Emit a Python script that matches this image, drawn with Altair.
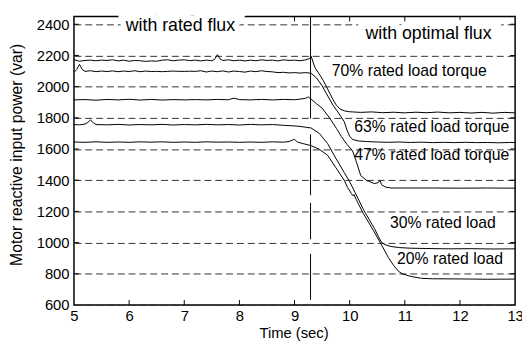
import altair as alt
import pandas as pd

FONT = "Liberation Sans"

x_ticks = [5, 6, 7, 8, 9, 10, 11, 12, 13]
y_ticks = [600, 800, 1000, 1200, 1400, 1600, 1800, 2000, 2200, 2400]
x_inner_ticks = [6, 7, 8, 9, 10, 11, 12]
y_inner_ticks = [800, 1000, 1200, 1400, 1600, 1800, 2000, 2200, 2400]

series_names = ["70%", "63%", "47%", "30%", "20%"]

line_70 = [(5.0, 2172), (5.1, 2163), (5.2, 2168), (5.3, 2170), (5.4, 2166), (5.5, 2170), (5.6, 2168),
           (5.7, 2172), (5.8, 2165), (5.9, 2170), (6.0, 2163), (6.1, 2168), (6.2, 2166), (6.3, 2162),
           (6.4, 2165), (6.5, 2163), (6.6, 2170), (6.7, 2172), (6.8, 2166), (6.9, 2170), (7.0, 2172),
           (7.1, 2167), (7.2, 2170), (7.3, 2165), (7.4, 2170), (7.5, 2166), (7.55, 2175), (7.6, 2205),
           (7.65, 2178), (7.7, 2168), (7.8, 2172), (7.9, 2166), (8.0, 2170), (8.1, 2165), (8.2, 2170),
           (8.3, 2166), (8.4, 2172), (8.5, 2168), (8.6, 2170), (8.7, 2165), (8.8, 2172), (8.9, 2168),
           (9.0, 2170), (9.1, 2166), (9.2, 2172), (9.27, 2180), (9.3, 2195), (9.37, 2122), (9.45, 2080),
           (9.52, 2040), (9.6, 1985), (9.7, 1915), (9.76, 1880), (9.82, 1858), (9.9, 1845), (10.0, 1839),
           (10.2, 1835), (10.4, 1838), (10.6, 1833), (10.8, 1836), (11.0, 1832), (11.2, 1836), (11.4, 1833),
           (11.6, 1837), (11.8, 1832), (12.0, 1835), (12.2, 1831), (12.4, 1835), (12.6, 1830), (12.8, 1835),
           (13.0, 1832)]

line_63 = [(5.0, 2092), (5.05, 2110), (5.1, 2143), (5.15, 2110), (5.2, 2098), (5.3, 2102), (5.4, 2096),
           (5.5, 2100), (5.6, 2097), (5.7, 2101), (5.8, 2096), (5.9, 2100), (6.0, 2097), (6.1, 2102),
           (6.2, 2096), (6.3, 2100), (6.4, 2097), (6.5, 2098), (6.6, 2096), (6.7, 2098), (6.8, 2100),
           (6.9, 2098), (7.0, 2098), (7.1, 2099), (7.2, 2098), (7.3, 2102), (7.4, 2094), (7.5, 2100),
           (7.6, 2096), (7.7, 2101), (7.8, 2094), (7.9, 2100), (8.0, 2097), (8.1, 2093), (8.2, 2100),
           (8.3, 2096), (8.4, 2102), (8.5, 2097), (8.6, 2095), (8.7, 2090), (8.8, 2092), (8.9, 2088),
           (9.0, 2090), (9.1, 2087), (9.2, 2090), (9.3, 2086), (9.4, 2055), (9.5, 2005), (9.58, 1954),
           (9.7, 1880), (9.8, 1830), (9.9, 1776), (9.95, 1722), (10.0, 1682), (10.05, 1662), (10.15, 1652),
           (10.3, 1648), (10.5, 1645), (10.7, 1643), (10.9, 1645), (11.1, 1642), (11.3, 1644), (11.5, 1641),
           (11.7, 1643), (11.9, 1641), (12.1, 1643), (12.3, 1641), (12.5, 1642), (12.7, 1640), (12.9, 1642),
           (13.0, 1641)]

line_47 = [(5.0, 1915), (5.2, 1917), (5.4, 1913), (5.6, 1918), (5.8, 1915), (6.0, 1919), (6.2, 1914),
           (6.4, 1918), (6.6, 1914), (6.8, 1917), (7.0, 1915), (7.2, 1917), (7.4, 1915), (7.6, 1918),
           (7.8, 1916), (7.9, 1926), (8.0, 1917), (8.2, 1915), (8.4, 1918), (8.6, 1915), (8.8, 1918),
           (9.0, 1916), (9.1, 1920), (9.2, 1925), (9.25, 1934), (9.3, 1920), (9.4, 1890), (9.5, 1862),
           (9.64, 1797), (9.76, 1732), (9.85, 1680), (9.95, 1630), (10.05, 1590), (10.12, 1520),
           (10.2, 1430), (10.3, 1400), (10.45, 1378), (10.52, 1385), (10.55, 1398), (10.58, 1370),
           (10.65, 1356), (10.75, 1350), (11.0, 1350), (11.5, 1350), (12.0, 1349), (12.5, 1350), (13.0, 1349)]

line_30 = [(5.0, 1757), (5.1, 1755), (5.2, 1760), (5.25, 1770), (5.3, 1787), (5.35, 1768), (5.4, 1757),
           (5.6, 1755), (5.8, 1758), (6.0, 1754), (6.2, 1757), (6.4, 1755), (6.6, 1758), (6.8, 1754),
           (7.0, 1757), (7.2, 1755), (7.4, 1758), (7.6, 1755), (7.8, 1757), (8.0, 1754), (8.2, 1758),
           (8.4, 1755), (8.6, 1757), (8.8, 1752), (9.0, 1748), (9.1, 1745), (9.2, 1740), (9.3, 1735),
           (9.45, 1700), (9.6, 1635), (9.75, 1540), (9.9, 1450), (10.0, 1390), (10.1, 1320), (10.25, 1212),
           (10.35, 1150), (10.45, 1090), (10.52, 1040), (10.57, 1005), (10.63, 988), (10.75, 975),
           (10.9, 968), (11.1, 964), (11.4, 962), (11.8, 960), (12.2, 961), (12.6, 959), (13.0, 960)]

line_20 = [(5.0, 1645), (5.2, 1643), (5.4, 1646), (5.6, 1643), (5.8, 1645), (6.0, 1643), (6.2, 1646),
           (6.4, 1644), (6.6, 1646), (6.8, 1643), (7.0, 1645), (7.2, 1643), (7.4, 1646), (7.6, 1644),
           (7.8, 1645), (8.0, 1643), (8.2, 1645), (8.4, 1643), (8.6, 1646), (8.8, 1644), (8.9, 1648),
           (8.95, 1656), (9.0, 1662), (9.05, 1645), (9.15, 1635), (9.3, 1622), (9.45, 1598), (9.6, 1560),
           (9.75, 1480), (9.9, 1400), (9.96, 1355), (10.03, 1315), (10.06, 1300), (10.08, 1308),
           (10.12, 1275), (10.25, 1185), (10.43, 1078), (10.57, 990), (10.7, 905), (10.8, 852),
           (10.88, 818), (10.95, 800), (11.1, 784), (11.3, 771), (11.5, 768), (12.0, 767), (12.5, 765),
           (13.0, 766)]

# vertical marker at the flux switch (drawn as pieces, with gaps as in the figure)
switch_x = [9.29, 9.29, 9.29, 9.29]
switch_top = [2450, 1694, 1254, 927]
switch_bottom = [1795, 1304, 1021, 633]

label_texts = ["with rated flux", "with optimal flux", "70% rated load torque",
               "63% rated load torque", "47% rated load torque", "30% rated load", "20% rated load"]
label_x = [6.93, 11.43, 11.08, 11.49, 11.49, 11.69, 11.82]
label_y = [2387, 2338, 2101, 1743, 1560, 1128, 892]
label_size = [18, 18, 16, 16, 16, 16, 16]
label_halo = [True, True, False, False, False, False, False]

rows = []
for name, pts in zip(series_names, [line_70, line_63, line_47, line_30, line_20]):
    for i, (t, v) in enumerate(pts):
        rows.append({"series": name, "i": i, "t": t, "v": v})
df = pd.DataFrame(rows)

switch_df = pd.DataFrame({"t": switch_x, "v": switch_top, "v2": switch_bottom})
labels_df = pd.DataFrame({"text": label_texts, "t": label_x, "v": label_y,
                          "fs": label_size, "halo": label_halo})
xt_df = pd.DataFrame({"t": x_inner_ticks})
yt_df = pd.DataFrame({"v": y_inner_ticks})

xscale = alt.Scale(domain=[5, 13], nice=False, zero=False)
yscale = alt.Scale(domain=[600, 2450], nice=False, zero=False)

x_axis = alt.Axis(values=x_ticks, title="Time (sec)", grid=False, ticks=False, domain=False,
                  labelFont=FONT, labelFontSize=15, labelColor="black", labelPadding=4,
                  labelFlush=False, labelOverlap=False, format="d",
                  titleFont=FONT, titleFontSize=15, titleFontWeight="normal", titleColor="black",
                  titleX=223, titleY=33, titleBaseline="alphabetic", titleAlign="center")
y_axis = alt.Axis(values=y_ticks, title="Motor reactive input  power (var)", grid=True,
                  gridDash=[7, 4], gridColor="#333333", gridWidth=1, ticks=False, domain=False,
                  labelFont=FONT, labelFontSize=15, labelColor="black", labelPadding=5,
                  labelFlush=False, labelOverlap=False, format="d",
                  titleFont=FONT, titleFontSize=16, titleFontWeight="normal", titleColor="black",
                  titleX=-53, titleY=140, titleBaseline="alphabetic", titleAlign="center", titleAngle=-90)

X = alt.X("t:Q", scale=xscale, axis=x_axis)
Y = alt.Y("v:Q", scale=yscale, axis=y_axis)

lines = alt.Chart(df).mark_line(color="black", strokeWidth=1).encode(
    x=X, y=Y, detail="series:N", order="i:Q",
)

switch = alt.Chart(switch_df).mark_rule(color="black", strokeWidth=1).encode(
    x=X, y=Y, y2="v2:Q",
)

tick_style = dict(color="black", strokeWidth=1)
xt_bottom = alt.Chart(xt_df).mark_rule(**tick_style).encode(
    x=X, y=alt.value(293), y2=alt.value(288))
xt_top = alt.Chart(xt_df).mark_rule(**tick_style).encode(
    x=X, y=alt.value(0), y2=alt.value(5))
yt_left = alt.Chart(yt_df).mark_rule(**tick_style).encode(
    y=Y, x=alt.value(0), x2=alt.value(5))
yt_right = alt.Chart(yt_df).mark_rule(**tick_style).encode(
    y=Y, x=alt.value(448), x2=alt.value(443))

halo = alt.Chart(labels_df).transform_filter("datum.halo").mark_text(
    font=FONT, color="white", stroke="white", strokeWidth=12, align="center", baseline="middle"
).encode(
    x=X, y=Y, text="text:N",
    size=alt.Size("fs:Q", scale=None, legend=None),
)

texts = alt.Chart(labels_df).mark_text(
    font=FONT, color="black", align="center", baseline="middle"
).encode(
    x=X, y=Y, text="text:N",
    size=alt.Size("fs:Q", scale=None, legend=None),
)

chart = alt.layer(lines, switch, xt_bottom, xt_top, yt_left, yt_right, halo, texts).properties(
    width=448, height=293,
    background="white",
    autosize=alt.AutoSizeParams(type="none"),
    padding={"left": 67, "top": 6, "right": 7, "bottom": 35},
).configure_view(stroke="black", strokeWidth=1.5)

chart.save("out.html", embed_options={"renderer": "svg", "actions": False})
